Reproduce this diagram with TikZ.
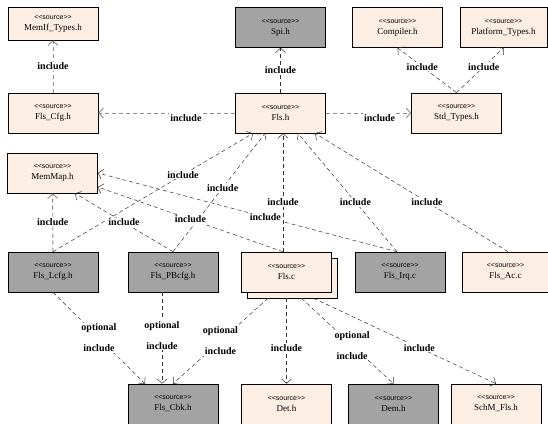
\documentclass[tikz,border=0pt]{standalone}
\usepackage{fontspec}
\setmainfont{Liberation Serif}
\newfontfamily\stereofont{Liberation Sans}
\usetikzlibrary{arrows.meta,shadows}
\definecolor{srcfill}{RGB}{253,238,228}
\definecolor{extfill}{RGB}{163,163,163}
\newcommand{\src}[1]{{\stereofont\fontsize{7}{8}\selectfont\textless\textless source\textgreater\textgreater}\\#1}

\begin{document}
\begin{tikzpicture}[x=1pt, y=-1pt,
    srcbox/.style={draw, fill=srcfill, line width=0.6pt, minimum width=90pt,
        minimum height=40pt, align=center, inner sep=1pt,
        font=\fontsize{9}{11}\selectfont},
    extbox/.style={srcbox, fill=extfill},
    inc/.style={draw=black!80, line width=0.5pt, dash pattern=on 4pt off 3pt,
        -{Straight Barb[length=4.5pt,width=10pt]}},
    incg/.style={inc, draw=black!45, line width=0.9pt},
    lbl/.style={fill=white, inner sep=1pt, font=\bfseries\fontsize{10}{12}\selectfont},
    lbl2/.style={lbl, align=center, font=\bfseries\fontsize{10}{21}\selectfont}]
    \useasboundingbox (0,0) rectangle (548,423);
    \node[srcbox, minimum height=33pt] (memif) at (53,23.5) {\src{MemIf\_Types.h}};
    \node[extbox] (spi) at (280.5,27.5) {\src{Spi.h}};
    \node[srcbox] (compiler) at (397.5,27.5) {\src{Compiler.h}};
    \node[srcbox, minimum width=87pt] (platform) at (503.5,27.5) {\src{Platform\_Types.h}};
    \node[srcbox] (flscfg) at (53,113) {\src{Fls\_Cfg.h}};
    \node[srcbox] (flsh) at (280.5,113) {\src{Fls.h}};
    \node[srcbox] (stdtypes) at (456.5,113) {\src{Std\_Types.h}};
    \node[srcbox] (memmap) at (52.5,173) {\src{MemMap.h}};
    \node[extbox] (lcfg) at (53,272) {\src{Fls\_Lcfg.h}};
    \node[extbox] (pbcfg) at (173,272) {\src{Fls\_PBcfg.h}};
    \node[srcbox, copy shadow={shadow xshift=6pt, shadow yshift=-6pt,
        fill=srcfill, draw=black}] (flsc) at (286.5,272) {\src{Fls.c}};
    \node[extbox] (irq) at (400,272) {\src{Fls\_Irq.c}};
    \node[srcbox, minimum width=87pt] (ac) at (505.5,272) {\src{Fls\_Ac.c}};
    \node[extbox] (cbk) at (173,404) {\src{Fls\_Cbk.h}};
    \node[srcbox] (det) at (286.5,404) {\src{Det.h}};
    \node[extbox] (dem) at (393.5,404) {\src{Dem.h}};
    \node[srcbox] (schm) at (496,404) {\src{SchM\_Fls.h}};

    \draw[incg] (flscfg) -- node[lbl]{include} (memif);
    \draw[inc] (flsh) -- node[lbl]{include} (spi);
    \draw[incg] (flsh) -- node[lbl, below, pos=.36]{include} (flscfg);
    \draw[incg] (flsh) -- node[lbl, below, pos=.63]{include} (stdtypes);
    \draw[inc] (stdtypes.north) -- node[lbl, pos=.58]{include} (compiler.south);
    \draw[inc] (stdtypes.north) -- node[lbl, pos=.58]{include} (platform.south);
    \draw[incg] (lcfg) -- node[lbl]{include} (memmap);
    \draw[inc] (lcfg.north) -- node[lbl, pos=.65]{include} ([xshift=-27.5pt]flsh.south);
    \draw[inc] (pbcfg.north) -- node[lbl, pos=.5]{include} ([xshift=22.5pt]memmap.south);
    \draw[inc] (pbcfg.north) -- node[lbl, pos=.54]{include} ([xshift=-15.5pt]flsh.south);
    \draw[inc] ([xshift=-3.5pt]flsc.north) -- node[lbl, pos=.42]{include} ([xshift=2.5pt]flsh.south);
    \draw[inc] ([xshift=-3.5pt]flsc.north) -- node[lbl, pos=.5]{include} ([yshift=-14pt]memmap.east);
    \draw[inc] ([xshift=-3pt]irq.north) -- node[lbl, pos=.42]{include} ([xshift=17.5pt]flsh.south);
    \draw[inc] ([xshift=-3pt]irq.north) -- node[lbl, pos=.44]{include} (memmap.east);
    \draw[inc] ([xshift=2.5pt]ac.north) -- node[lbl, pos=.42]{include} ([xshift=34.5pt]flsh.south);

    \draw[inc] (lcfg.south) -- node[lbl2]{optional\\include} ([xshift=-28pt]cbk.north);
    \draw[inc] ([xshift=-11pt]pbcfg.south) -- node[lbl2, pos=.47]{optional\\include} ([xshift=-11pt]cbk.north);
    \draw[inc] ([xshift=-18.5pt, yshift=-6pt]flsc.south) -- node[lbl2, pos=.5]{optional\\include} (cbk.north);
    \draw[inc] ([yshift=-6pt]flsc.south) -- node[lbl, pos=.58]{include} (det.north);
    \draw[inc] ([xshift=15pt, yshift=-6pt]flsc.south) -- node[lbl2, pos=.55]{optional\\include} (dem.north);
    \draw[inc] ([xshift=27pt, yshift=-6pt]flsc.south) -- node[lbl, pos=.58]{include} (schm.north);
\end{tikzpicture}
\end{document}
